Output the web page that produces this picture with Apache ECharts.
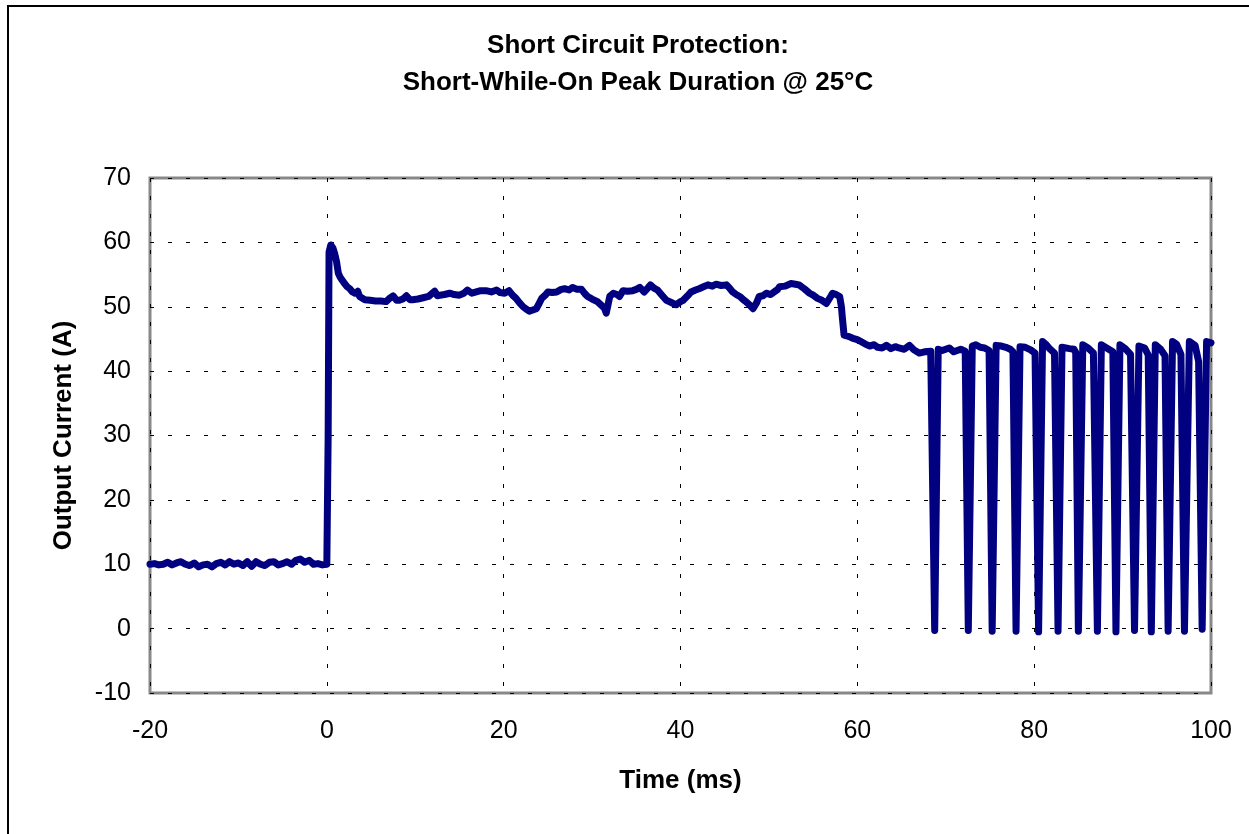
<!DOCTYPE html>
<html>
<head>
<meta charset="utf-8">
<script src="https://cdn.jsdelivr.net/npm/echarts@6/dist/echarts.min.js"></script>
<style>
html,body{margin:0;padding:0;background:#fff;}
#chart{width:1249px;height:834px;}
</style>
</head>
<body>
<div id="chart"></div>
<script>
// ---- Data ----
const chartTitle = 'Short Circuit Protection:\nShort-While-On Peak Duration @ 25°C';
const xAxisName = 'Time (ms)';
const yAxisName = 'Output Current (A)';
const xTicks = [-20, 0, 20, 40, 60, 80, 100];
const yTicks = [-10, 0, 10, 20, 30, 40, 50, 60, 70];

// before the short (-20..0 ms)
const preTime = [
 -20,-19.5,-19,-18.5,-18,-17.5,-17,-16.5,-16,-15.5,-15,-14.5,-14,-13.5,-13,-12.5,-12,-11.5,-11,-10.5,
 -10,-9.5,-9,-8.5,-8,-7.5,-7,-6.5,-6,-5.5,-5,-4.5,-4,-3.5,-3,-2.5,-2,-1.5,-1,-0.5,0,0.1
];
const preCurrent = [
 10.0,10.1,9.9,10.0,10.3,9.9,10.2,10.4,10.0,9.8,10.2,9.6,9.9,10.0,9.6,10.1,10.3,9.9,10.4,10.0,
 10.2,9.8,10.4,9.7,10.4,10.0,9.8,10.3,10.4,9.9,10.1,10.4,10.0,10.6,10.8,10.3,10.6,10.0,10.1,9.9,10.0,10.2
];

// short applied: peak and ~52 A plateau, then ~43.5 A (0.15..68.3 ms)
const shortTime = [
 0.15,0.25,0.45,0.7,0.9,1.1,1.3,1.5,1.8,2.0,2.3,2.6,2.9,3.2,3.5,3.7,3.9,4.3,
 4.9,5.5,6.1,6.7,7.1,7.5,7.9,8.2,8.6,9.0,9.4,9.7,10.3,10.9,11.5,12.2,12.5,12.8,13.3,13.9,
 14.4,15.0,15.5,15.9,16.4,16.9,17.4,18.0,18.6,19.2,19.6,20.1,20.6,21.0,21.4,21.8,22.2,22.6,22.9,23.3,
 23.7,24.0,24.3,24.7,25.0,25.5,26.0,26.5,26.9,27.4,27.8,28.3,28.8,29.2,29.5,30.0,30.6,31.0,31.4,31.6,
 32.0,32.4,32.8,33.1,33.5,34.0,34.6,35.0,35.4,35.9,36.3,36.6,37.0,37.4,37.9,38.4,38.9,39.5,40.0,40.3,
 40.8,41.2,41.7,42.1,42.6,43.1,43.6,44.0,44.6,45.2,45.6,45.9,46.3,46.7,47.1,47.4,47.8,48.2,48.6,48.9,
 49.3,49.7,50.2,50.6,51.0,51.2,51.8,52.5,53.0,53.4,54.0,54.6,55.0,55.5,56.0,56.5,56.9,57.2,57.6,58.0,
 58.2,58.3,58.5,59.0,59.5,60.0,60.4,60.9,61.4,61.9,62.3,62.8,63.3,63.8,64.3,64.7,65.3,65.9,66.4,67.0,
 67.6,68.3
];
const shortCurrent = [
 30.0,58.5,59.6,59.1,58.2,57.0,55.2,54.6,54.0,53.6,53.1,52.8,52.3,52.1,52.4,51.6,51.3,51.1,
 51.0,50.9,50.9,50.8,51.3,51.7,51.0,51.0,51.2,51.7,51.1,51.1,51.2,51.4,51.6,52.4,51.7,51.8,51.9,52.1,
 51.9,51.8,52.1,52.6,52.1,52.3,52.5,52.5,52.3,52.6,52.2,52.1,52.5,51.8,51.3,50.6,50.0,49.6,49.3,49.5,
 49.7,50.5,51.3,51.8,52.3,52.2,52.3,52.7,52.8,52.6,53.0,52.7,52.7,52.0,51.6,51.2,50.8,50.3,49.8,49.0,
 51.6,52.1,51.9,51.6,52.5,52.4,52.5,52.7,53.0,52.3,52.9,53.4,52.9,52.6,51.8,51.0,50.7,50.3,50.8,51.0,
 51.7,52.3,52.6,52.8,53.1,53.4,53.2,53.5,53.3,53.4,52.8,52.3,51.9,51.6,51.1,50.8,50.3,49.7,50.6,51.6,
 51.7,52.1,51.9,52.3,52.7,53.1,53.2,53.6,53.5,53.4,52.8,52.1,51.8,51.3,51.0,50.5,51.4,52.1,51.9,51.6,
 50.0,48.4,45.6,45.4,45.1,44.9,44.6,44.2,43.9,44.1,43.7,43.6,44.0,43.5,43.8,43.6,43.4,44.0,43.3,42.8,
 43.0,43.1
];

// hiccup pulses (68.5..100 ms)
const pulseTime = [
 68.5,68.75,68.9,69.15,69.6,70.0,70.4,70.9,71.3,71.7,72.2,
 72.55,72.75,73.0,73.4,73.9,74.4,74.9,
 75.25,75.45,75.7,76.3,76.8,77.3,77.6,
 77.95,78.15,78.4,79.0,79.6,80.1,
 80.5,80.7,80.95,81.3,81.8,82.3,
 82.7,82.9,83.15,84.0,84.5,84.7,
 85.0,85.2,85.5,86.1,86.7,
 87.15,87.35,87.6,88.2,88.9,
 89.25,89.45,89.7,90.3,90.9,
 91.35,91.55,91.85,92.5,92.9,
 93.25,93.45,93.7,94.3,94.8,
 95.15,95.35,95.65,96.1,96.6,
 97.0,97.2,97.55,98.2,98.6,
 99.0,99.2,99.5,100.0
];
const pulseCurrent = [
 42.8,-0.3,-0.5,43.4,43.2,43.4,43.6,43.0,43.2,43.4,43.1,
 -0.3,-0.5,43.9,44.1,43.7,43.6,43.2,
 -0.4,-0.5,44.0,43.9,43.7,43.4,43.0,
 -0.4,-0.5,43.8,43.7,43.3,42.8,
 -0.5,-0.5,44.6,44.2,43.4,42.8,
 -0.4,-0.4,43.7,43.5,43.4,42.9,
 -0.4,-0.4,44.1,43.6,42.8,
 -0.4,-0.4,44.1,43.6,43.0,
 -0.5,-0.5,44.1,43.5,42.6,
 -0.3,-0.3,43.9,43.6,42.5,
 -0.5,-0.5,44.1,43.4,42.4,
 -0.4,-0.4,44.6,44.2,42.6,
 -0.4,-0.4,44.6,44.0,41.5,
 -0.1,-0.1,44.6,44.4
];

const timeMs = preTime.concat(shortTime, pulseTime);
const currentA = preCurrent.concat(shortCurrent, pulseCurrent);
const seriesData = timeMs.map((t, i) => [t, currentA[i]]);

const chart = echarts.init(document.getElementById('chart'), null, {renderer: 'canvas'});
const font = 'Liberation Sans, Arial, sans-serif';
const gridDash = {color: '#000', width: 1, type: [4, 14]};

chart.setOption({
  animation: false,
  backgroundColor: '#fff',
  title: {
    text: chartTitle,
    left: 633,
    top: 22,
    textAlign: 'center',
    textStyle: {fontFamily: font, fontWeight: 'bold', fontSize: 26, lineHeight: 37, color: '#000'}
  },
  graphic: [{
    type: 'polyline',
    shape: {points: [[8, 840], [8, 6], [1260, 6]]},
    style: {stroke: '#000', lineWidth: 2, fill: null},
    silent: true
  }],
  grid: {
    left: 150, right: 38, top: 178, bottom: 141,
    show: true, borderColor: '#888', borderWidth: 3, backgroundColor: 'transparent'
  },
  xAxis: {
    type: 'value', min: xTicks[0], max: xTicks[xTicks.length - 1], interval: 20,
    name: xAxisName, nameLocation: 'middle', nameGap: 75,
    nameTextStyle: {fontFamily: font, fontWeight: 'bold', fontSize: 26, color: '#000'},
    axisLine: {show: false}, axisTick: {show: false},
    axisLabel: {fontFamily: font, fontSize: 25, color: '#000', margin: 26},
    splitLine: {show: true, lineStyle: gridDash}
  },
  yAxis: {
    type: 'value', min: yTicks[0], max: yTicks[yTicks.length - 1], interval: 10,
    name: yAxisName, nameLocation: 'middle', nameGap: 73, nameRotate: 90,
    nameTextStyle: {fontFamily: font, fontWeight: 'bold', fontSize: 26, color: '#000'},
    axisLine: {show: false}, axisTick: {show: false},
    axisLabel: {fontFamily: font, fontSize: 25, color: '#000', margin: 19},
    splitLine: {show: true, lineStyle: gridDash}
  },
  series: [{
    type: 'line',
    data: seriesData,
    showSymbol: false,
    symbol: 'none',
    clip: false,
    lineStyle: {color: '#000080', width: 7, join: 'round', cap: 'round'},
    z: 5
  }]
});
</script>
</body>
</html>
